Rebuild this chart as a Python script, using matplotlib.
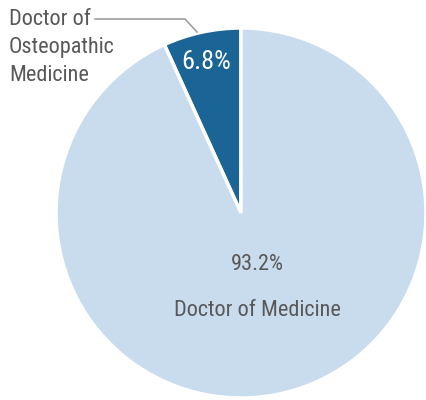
import matplotlib
matplotlib.use('Agg')
import matplotlib.pyplot as plt

# data
labels = ['Doctor of\nOsteopathic\nMedicine', 'Doctor of Medicine']
shares = [6.8, 93.2]
colors = ['#1a6496', '#c9dcee']

plt.rcParams['font.family'] = ['Roboto Condensed', 'DejaVu Sans']

fig = plt.figure(figsize=(4.26, 4.0), dpi=100)
ax = fig.add_axes([0, 0, 1, 1])

ax.pie(shares, colors=colors, startangle=90, counterclock=True,
       center=(241, 187), radius=185,
       wedgeprops=dict(edgecolor='white', linewidth=2.5))

ax.set_xlim(0, 426)
ax.set_ylim(0, 400)
ax.set_aspect('equal')
ax.axis('off')

grey = '#585858'
ax.text(206, 400 - 62, f'{shares[0]}%', color='white', fontsize=19,
        ha='center', va='center')
ax.text(257, 400 - 265, f'{shares[1]}%', color=grey, fontsize=16,
        ha='center', va='center')
ax.text(257, 400 - 310, labels[1], color=grey, fontsize=16,
        ha='center', va='center')
ax.text(9, 400 - 9, labels[0], color=grey,
        fontsize=16, ha='left', va='top', linespacing=1.45)
ax.plot([95, 185, 197], [400 - 19, 400 - 19, 400 - 32], color='#a0a0a0',
        lw=1.2)

fig.savefig('out.png', dpi=100)
